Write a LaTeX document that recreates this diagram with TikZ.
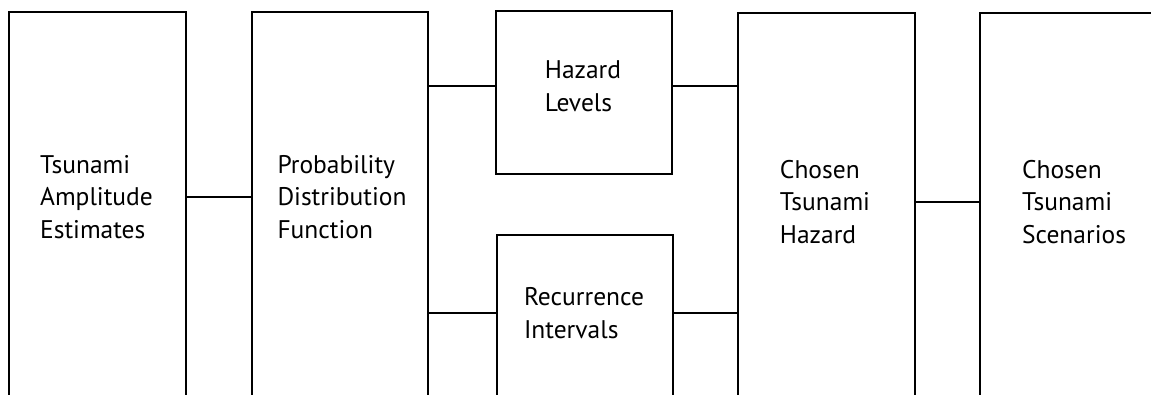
\documentclass[tikz,border=0pt]{standalone}
\usepackage{fontspec}
\setmainfont{PT Sans}
\usepackage{tikz}
\usetikzlibrary{positioning}

\begin{document}
\begin{tikzpicture}[
x=1pt, y=-1pt,
box/.style={
rectangle,
draw,
line width=1.8pt,
anchor=north west,
inner sep=0pt
},
txt/.style={
align=left,
font=\fontsize{25.5}{32.5}\selectfont,
inner sep=0pt
},
link/.style={line width=1.3pt}
]
\useasboundingbox (0,0) rectangle (1151,395);
\clip (0,0) rectangle (1151,395);

\node[box, minimum width=177pt, minimum height=440pt] (amp) at (8,11) {};
\node[box, minimum width=176pt, minimum height=440pt] (pdf) at (251,11) {};
\node[box, minimum width=176pt, minimum height=163pt] (haz) at (495,10) {};
\node[box, minimum width=176pt, minimum height=240pt] (rec) at (496,234) {};
\node[box, minimum width=177pt, minimum height=440pt] (chz) at (737,12) {};
\node[box, minimum width=190pt, minimum height=440pt] (scn) at (979,12) {};

\node[txt] (ampT) at (96.5,197) {Tsunami\\Amplitude\\Estimates};
\node[txt] (pdfT) at (342,197) {Probability\\Distribution\\Function};
\node[txt] (hazT) at (583,86) {Hazard\\Levels};
\node[txt] (recT) at (584,313) {Recurrence\\Intervals};
\node[txt] (chzT) at (825,202) {Chosen\\Tsunami\\Hazard};
\node[txt] (scnT) at (1074,202) {Chosen\\Tsunami\\Scenarios};

\draw[link] (amp.east |- ampT) -- (pdf.west |- ampT);
\draw[link] (pdf.east |- hazT) -- (haz.west |- hazT);
\draw[link] (pdf.east |- recT) -- (rec.west |- recT);
\draw[link] (haz.east |- hazT) -- (chz.west |- hazT);
\draw[link] (rec.east |- recT) -- (chz.west |- recT);
\draw[link] (chz.east |- chzT) -- (scn.west |- chzT);

\end{tikzpicture}
\end{document}
